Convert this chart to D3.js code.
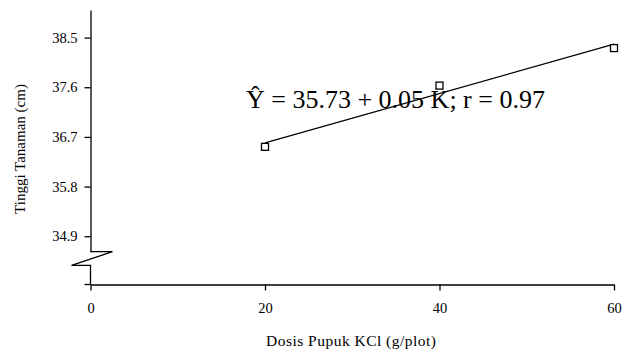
<!DOCTYPE html>
<html>
<head>
<meta charset="utf-8">
<script src="https://cdn.jsdelivr.net/npm/d3@7/dist/d3.min.js"></script>
<style>
  body { margin: 0; background: #fff; }
  text { font-family: "Liberation Serif", "Times New Roman", serif; fill: #000; }
</style>
</head>
<body>
<div id="chart"></div>
<script>
// data
const dosis = [20, 40, 60];
const tinggi = [36.52, 37.63, 38.31];
const yTicks = [34.9, 35.8, 36.7, 37.6, 38.5];
const xTicks = [0, 20, 40, 60];
const equation = 'Ŷ = 35.73 + 0.05 K; r = 0.97';

const width = 634, height = 351;

const svg = d3.select('#chart').append('svg')
  .attr('width', width)
  .attr('height', height);

const x = d3.scaleLinear().domain([0, 60]).range([90.5, 614]);
// upper part of the broken y axis
const y = d3.scaleLinear().domain([34.62, 39.0]).range([251.7, 10]);
const axisY = 284.5;

// x axis
svg.append('g')
  .attr('transform', `translate(0,${axisY})`)
  .call(d3.axisBottom(x).tickValues(xTicks).tickSize(6).tickSizeOuter(0).tickPadding(12))
  .call(g => g.select('.domain').attr('stroke-width', 1.3))
  .call(g => g.selectAll('.tick line').attr('stroke-width', 1.3))
  .call(g => g.selectAll('.tick text').style('font-size', '14.5px'));

// y axis (above the break)
svg.append('g')
  .attr('transform', `translate(${x(0)},0)`)
  .call(d3.axisLeft(y).tickValues(yTicks).tickFormat(d3.format('.1f')).tickSize(6).tickSizeOuter(0).tickPadding(7))
  .call(g => g.select('.domain').attr('stroke-width', 1.3))
  .call(g => g.selectAll('.tick line').attr('stroke-width', 1.3))
  .call(g => g.selectAll('.tick text').style('font-size', '14.5px'));

// axis break zigzag and the lower stub
const x0 = x(0);
svg.append('path')
  .attr('d', d3.line()([
    [x0, y(34.62)], [x0 + 22, y(34.62)], [x0 - 19, 265.3], [x0, 265.3], [x0, axisY]
  ]))
  .attr('fill', 'none')
  .attr('stroke', '#000')
  .attr('stroke-width', 1.3);
svg.append('line')
  .attr('x1', x0 - 6).attr('x2', x0)
  .attr('y1', axisY).attr('y2', axisY)
  .attr('stroke', '#000').attr('stroke-width', 1.3);

// least squares line
const mx = d3.mean(dosis), my = d3.mean(tinggi);
const slope = d3.sum(dosis, (d, i) => (d - mx) * (tinggi[i] - my)) / d3.sum(dosis, d => (d - mx) ** 2);
const icpt = my - slope * mx;
svg.append('path')
  .attr('d', d3.line().x(d => x(d)).y(d => y(icpt + slope * d))([20, 60]))
  .attr('fill', 'none')
  .attr('stroke', '#000')
  .attr('stroke-width', 1.3);

// observed points
svg.selectAll('rect.pt')
  .data(dosis)
  .enter().append('rect')
  .attr('class', 'pt')
  .attr('x', (d) => x(d) - 3.5)
  .attr('y', (d, i) => y(tinggi[i]) - 3.5)
  .attr('width', 7)
  .attr('height', 7)
  .attr('fill', '#fff')
  .attr('stroke', '#000')
  .attr('stroke-width', 1.3);

// regression equation
svg.append('text')
  .attr('x', 246)
  .attr('y', 107.5)
  .style('font-size', '26px')
  .text(equation);

// axis titles
svg.append('text')
  .attr('x', 266)
  .attr('y', 346)
  .attr('textLength', 170)
  .attr('lengthAdjust', 'spacing')
  .style('font-size', '15.5px')
  .text('Dosis Pupuk KCl (g/plot)');

svg.append('text')
  .attr('transform', 'translate(25,149) rotate(-90)')
  .attr('text-anchor', 'middle')
  .style('font-size', '15px')
  .text('Tinggi Tanaman (cm)');
</script>
</body>
</html>
